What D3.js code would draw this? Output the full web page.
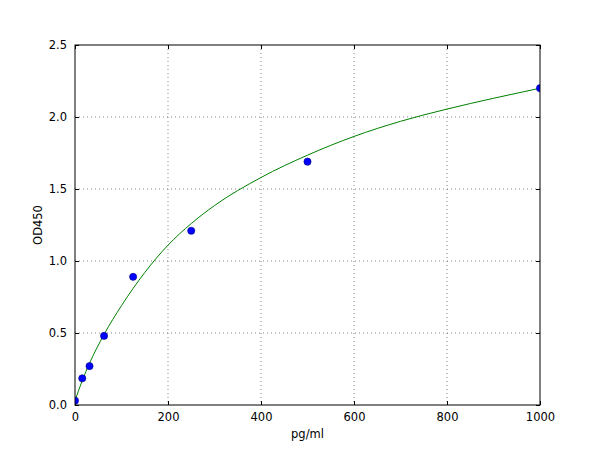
<!DOCTYPE html>
<html>
<head>
<meta charset="utf-8">
<script src="https://cdn.jsdelivr.net/npm/d3@7"></script>
<style>
  body { margin: 0; background: #fff; }
  text { font-family: "DejaVu Sans", sans-serif; fill: #000; }
</style>
</head>
<body>
<div class="chart"></div>
<script>
// standard points (pg/ml vs OD450)
const conc = [0, 15.6, 31.25, 62.5, 125, 250, 500, 1000];
const od = [0.03, 0.185, 0.27, 0.48, 0.89, 1.21, 1.69, 2.2];

// fitted curve
const fitX = [0, 15.6, 31.25, 62.5, 100, 125, 150, 200, 250, 300, 400, 500, 600, 700, 800, 900, 1000];
const fitY = [0.03, 0.17, 0.29, 0.49, 0.69, 0.81, 0.92, 1.11, 1.26, 1.385, 1.58, 1.735, 1.865, 1.97, 2.055, 2.13, 2.2];

const xTicks = [0, 200, 400, 600, 800, 1000];
const yTicks = [0.0, 0.5, 1.0, 1.5, 2.0, 2.5];

const width = 600, height = 450;
const margin = {top: 45, right: 60, bottom: 45, left: 75};
const w = width - margin.left - margin.right;
const h = height - margin.top - margin.bottom;

const svg = d3.select(".chart").append("svg")
    .attr("width", width)
    .attr("height", height);

const g = svg.append("g")
    .attr("transform", `translate(${margin.left},${margin.top})`);

const x = d3.scaleLinear().domain([0, 1000]).range([0, w]);
const y = d3.scaleLinear().domain([0, 2.5]).range([h, 0]);

g.append("clipPath").attr("id", "clip")
  .append("rect").attr("width", w).attr("height", h);

// grid
g.append("g")
    .attr("stroke", "#000")
    .attr("stroke-opacity", 0.6)
    .attr("stroke-dasharray", "1,3")
    .attr("stroke-width", 0.8)
  .selectAll("line.gx")
  .data(xTicks.slice(1, -1))
  .join("line")
    .attr("x1", d => x(d)).attr("x2", d => x(d))
    .attr("y1", 0).attr("y2", h);

g.append("g")
    .attr("stroke", "#000")
    .attr("stroke-opacity", 0.6)
    .attr("stroke-dasharray", "1,3")
    .attr("stroke-width", 0.8)
  .selectAll("line.gy")
  .data(yTicks.slice(1, -1))
  .join("line")
    .attr("x1", 0).attr("x2", w)
    .attr("y1", d => y(d)).attr("y2", d => y(d));

// axes, ticks pointing inward
const fmtY = d3.format(".1f");
g.append("g")
    .attr("transform", `translate(0,${h})`)
    .call(d3.axisBottom(x).tickValues(xTicks).tickSize(-4).tickPadding(8).tickFormat(d3.format("d")))
    .call(a => a.select(".domain").remove());
g.append("g")
    .call(d3.axisTop(x).tickValues(xTicks).tickSize(-4).tickFormat(""))
    .call(a => a.select(".domain").remove());
g.append("g")
    .call(d3.axisLeft(y).tickValues(yTicks).tickSize(-4).tickPadding(8).tickFormat(fmtY))
    .call(a => a.select(".domain").remove());
g.append("g")
    .attr("transform", `translate(${w},0)`)
    .call(d3.axisRight(y).tickValues(yTicks).tickSize(-4).tickFormat(""))
    .call(a => a.select(".domain").remove());

g.selectAll(".tick text")
    .style("font-family", "'DejaVu Sans', sans-serif")
    .style("font-size", "11.5px")
    .attr("fill", "#000");
g.selectAll(".tick line").attr("stroke", "#000");

// curve
const line = d3.line()
    .x((d, i) => x(fitX[i]))
    .y(d => y(d))
    .curve(d3.curveMonotoneX);

g.append("path")
    .attr("clip-path", "url(#clip)")
    .attr("fill", "none")
    .attr("stroke", "#008000")
    .attr("stroke-width", 1)
    .attr("d", line(fitY));

// points
g.append("g")
    .attr("clip-path", "url(#clip)")
  .selectAll("circle")
  .data(od)
  .join("circle")
    .attr("cx", (d, i) => x(conc[i]))
    .attr("cy", d => y(d))
    .attr("r", 3.6)
    .attr("fill", "#0000ff")
    .attr("stroke", "#000080")
    .attr("stroke-width", 0.6);

// frame
g.append("rect")
    .attr("width", w).attr("height", h)
    .attr("fill", "none")
    .attr("stroke", "#000")
    .attr("stroke-width", 1);

// labels
svg.append("text")
    .attr("x", margin.left + w / 2)
    .attr("y", 438)
    .attr("text-anchor", "middle")
    .style("font-size", "11.5px")
    .text("pg/ml");

svg.append("text")
    .attr("transform", `translate(42,${margin.top + h / 2}) rotate(-90)`)
    .attr("text-anchor", "middle")
    .style("font-size", "11.5px")
    .text("OD450");
</script>
</body>
</html>
